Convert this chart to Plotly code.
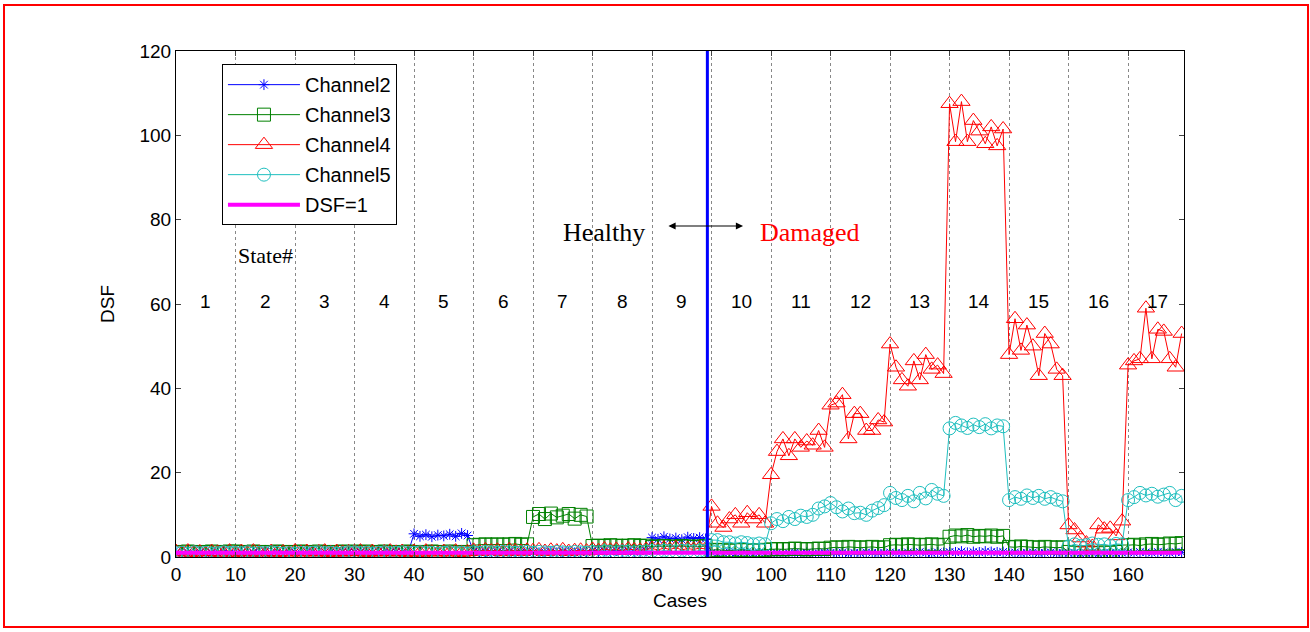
import plotly.graph_objects as go

# ---------------- data ----------------
cases = list(range(170))

ch2 = ([1.0,0.8,1.1,0.9,1.2,0.8,1.0,0.9,1.1,0.8] +
       [0.9,1.1,0.8,1.0,0.9,1.2,0.9,1.0,0.8,1.1] +
       [1.2,1.0,1.3,1.1,1.0,1.2,1.1,1.0,1.2,1.1] +
       [1.1,1.2,1.0,1.1,1.3,1.1,1.0,1.2,1.1,1.0] +
       [5.5,4.9,5.3,4.8,5.2,5.0,5.4,4.9,5.6,5.1] +
       [1.3,1.1,1.2,1.0,1.2,1.1,1.3,1.0,1.2,1.1] +
       [1.2,1.0,1.1,1.3,1.0,1.2,1.1,1.0,1.2,1.1] +
       [1.5,1.3,1.4,1.2,1.5,1.3,1.4,1.2,1.3,1.4] +
       [4.6,4.2,4.8,4.3,4.5,4.1,4.7,4.4,4.6,4.3] +
       [1.0,0.8,0.9,1.1,0.8,1.0,0.9,0.8,1.0,0.9] +
       [0.9,1.0,0.8,0.9,1.1,0.9,1.0,0.8,0.9,1.0] +
       [1.0,0.9,1.1,0.8,1.0,0.9,1.1,1.0,0.9,1.0] +
       [1.1,1.0,0.9,1.1,1.0,1.2,1.0,0.9,1.1,1.0] +
       [1.2,1.1,1.3,1.0,1.2,1.1,1.3,1.2,1.1,1.2] +
       [1.0,1.1,0.9,1.0,1.1,0.9,1.0,1.1,0.9,1.0] +
       [0.9,1.0,0.8,0.9,1.0,0.8,0.9,1.0,0.9,1.0] +
       [1.1,1.0,1.2,1.1,1.0,1.2,1.1,1.0,1.2,1.1])

ch3 = ([1.2,1.1,1.3,1.2,1.1,1.2,1.3,1.1,1.2,1.3] +
       [1.3,1.2,1.1,1.3,1.2,1.1,1.2,1.3,1.2,1.1] +
       [1.2,1.3,1.2,1.1,1.3,1.2,1.1,1.2,1.3,1.2] +
       [1.3,1.2,1.3,1.1,1.2,1.3,1.2,1.1,1.2,1.3] +
       [1.2,1.1,1.2,1.3,1.2,1.1,1.3,1.2,1.1,1.2] +
       [2.8,2.9,3.0,2.9,3.0,2.9,3.0,3.1,2.9,3.0] +
       [9.5,10.2,9.0,10.3,9.4,9.8,10.2,9.1,10.0,9.6] +
       [2.6,2.7,2.6,2.8,2.7,2.6,2.7,2.8,2.6,2.7] +
       [2.4,2.5,2.6,2.5,2.4,2.6,2.5,2.4,2.5,2.6] +
       [1.6,1.7,1.6,1.5,1.6,1.7,1.6,1.5,1.6,1.7] +
       [1.8,1.9,1.8,1.9,2.0,1.9,1.8,1.9,2.0,1.9] +
       [2.2,2.3,2.2,2.4,2.3,2.2,2.3,2.4,2.2,2.3] +
       [2.8,2.9,2.8,3.0,2.9,2.8,2.9,3.0,2.8,2.9] +
       [4.8,5.1,4.9,5.2,4.8,5.0,4.9,5.1,4.8,5.0] +
       [2.4,2.3,2.5,2.4,2.3,2.2,2.4,2.3,2.2,2.3] +
       [1.2,1.0,0.9,1.1,1.0,0.9,1.1,1.0,1.2,1.3] +
       [2.8,2.9,2.7,3.0,3.1,2.9,3.0,3.2,3.1,3.3])

ch4 = ([1.3,0.9,1.4,1.0,1.2,0.8,1.3,1.1,0.9,1.4] +
       [1.0,1.3,0.9,1.4,1.1,0.8,1.3,1.0,1.2,0.9] +
       [1.4,1.1,1.3,0.9,1.2,1.4,1.0,1.3,1.1,1.2] +
       [1.2,1.4,1.0,1.3,0.9,1.2,1.4,1.1,1.3,1.0] +
       [1.3,1.0,1.4,1.2,0.9,1.3,1.1,1.4,1.0,1.2] +
       [1.6,1.3,1.7,1.4,1.6,1.2,1.7,1.5,1.3,1.6] +
       [1.5,1.7,1.3,1.6,1.4,1.7,1.3,1.5,1.6,1.4] +
       [1.8,1.5,1.9,1.6,1.8,1.5,1.9,1.7,1.6,1.8] +
       [2.0,1.7,2.1,1.8,2.2,1.7,2.0,1.8,2.1,1.9] +
       [12.0,8.0,7.0,9.0,10.0,8.0,10.5,9.0,10.0,8.0] +
       [19.5,25.0,28.0,24.0,28.0,26.0,27.5,26.5,30.0,26.0] +
       [36.0,36.5,38.5,28.0,34.0,34.0,30.0,30.0,32.5,32.0] +
       [50.5,45.0,42.0,40.5,46.5,42.0,48.0,44.5,45.5,43.5] +
       [107.5,98.5,108.0,98.5,103.5,101.0,98.0,102.0,97.5,101.5] +
       [48.0,56.5,49.0,55.0,50.0,43.0,53.0,50.5,44.5,43.0] +
       [7.6,6.4,4.5,3.3,2.5,7.6,6.6,6.8,5.0,8.5] +
       [45.5,46.5,47.0,59.0,47.0,54.0,53.5,47.0,45.0,53.0])

ch5 = ([0.9,1.0,0.8,1.1,0.9,1.0,0.8,0.9,1.1,1.0] +
       [1.0,0.9,1.1,0.8,1.0,0.9,1.1,1.0,0.8,0.9] +
       [0.8,1.0,0.9,1.0,1.1,0.9,1.0,0.8,0.9,1.1] +
       [1.1,0.9,1.0,0.8,1.0,1.1,0.9,1.0,1.1,0.9] +
       [1.0,1.1,0.9,1.0,0.8,1.0,1.1,0.9,1.0,0.8] +
       [1.1,1.0,1.2,1.1,1.0,1.2,1.1,1.0,1.1,1.2] +
       [1.0,1.2,1.1,1.0,1.2,1.1,1.0,1.2,1.1,1.0] +
       [1.2,1.1,1.3,1.2,1.1,1.3,1.2,1.1,1.2,1.3] +
       [1.4,1.3,1.5,1.4,1.3,1.5,1.4,1.3,1.5,1.4] +
       [4.0,4.0,3.5,3.5,3.2,3.5,3.3,3.0,3.2,3.0] +
       [8.0,9.0,8.5,9.5,9.0,9.8,9.5,10.0,11.5,12.0] +
       [12.8,11.8,10.8,11.5,10.4,10.5,10.0,11.0,11.6,12.3] +
       [15.2,14.0,13.5,14.5,13.2,15.2,13.9,15.9,15.0,14.5] +
       [30.5,31.8,31.2,30.6,31.4,30.8,31.5,30.5,31.2,31.0] +
       [13.5,14.2,13.8,14.6,14.0,14.5,13.8,14.2,13.6,13.2] +
       [2.5,3.0,2.6,2.8,3.2,2.9,3.0,2.7,3.1,3.0] +
       [13.5,14.2,15.2,14.6,15.0,14.3,14.8,15.2,13.5,14.5])

dsf_threshold = 1
state_labels = [str(i) for i in range(1, 18)]
x_ticks = list(range(0, 170, 10))
y_ticks = list(range(0, 121, 20))
boundary_case = 89.3

# ---------------- figure ----------------
fig = go.Figure()
series = [
    ("Channel2", ch2, "#0000FF", "asterisk-open", 9),
    ("Channel3", ch3, "#008000", "square-open", 13),
    ("Channel4", ch4, "#FF0000", "triangle-up-open", 15),
    ("Channel5", ch5, "#1FBFBF", "circle-open", 13),
]
for i, (name, vals, col, sym, sz) in enumerate(series):
    fig.add_trace(go.Scatter(
        x=cases, y=vals, name=name, mode="lines+markers",
        line=dict(color=col, width=1),
        marker=dict(symbol=sym, size=sz, color=col, line=dict(width=1, color=col)),
        legendgroup=str(i),
    ))
fig.add_trace(go.Scatter(
    x=[cases[0], cases[-1]], y=[dsf_threshold, dsf_threshold], name="DSF=1",
    mode="lines", line=dict(color="#FF00FF", width=4), legendgroup="5",
))

# healthy/damaged boundary
fig.add_shape(type="line", xref="x", yref="paper", x0=boundary_case, x1=boundary_case,
              y0=0, y1=1, line=dict(color="#0000FF", width=3))

# red outer frame
fig.add_shape(type="rect", xref="paper", yref="paper",
              x0=(4 - 176) / 1008, x1=(1308 - 176) / 1008,
              y0=(557 - 627) / 506, y1=(557 - 5) / 506,
              line=dict(color="#FF0000", width=2), fillcolor="rgba(0,0,0,0)")

# state numbers
for i, lab in enumerate(state_labels):
    fig.add_annotation(x=10 * i + 5, y=60.5, text=lab, showarrow=False,
                       font=dict(family="Liberation Sans, Arial", size=19, color="black"))

fig.add_annotation(x=15, y=71.5, text="State#", showarrow=False,
                   font=dict(family="Liberation Serif, Times New Roman", size=22, color="black"))
fig.add_annotation(x=72, y=77, text="Healthy", showarrow=False,
                   font=dict(family="Liberation Serif, Times New Roman", size=26, color="black"))
fig.add_annotation(x=106.5, y=77, text="Damaged", showarrow=False,
                   font=dict(family="Liberation Serif, Times New Roman", size=26, color="#FF0000"))
fig.add_annotation(x=95.3, y=78.5, ax=82.5, ay=78.5, xref="x", yref="y", axref="x", ayref="y",
                   text="", showarrow=True, arrowhead=2, arrowside="end+start",
                   arrowsize=1.2, arrowwidth=1.2, arrowcolor="black")

axis_font = dict(family="Liberation Sans, Arial", size=19, color="black")
fig.update_layout(
    width=1310, height=632,
    margin=dict(l=176, r=126, t=51, b=75),
    paper_bgcolor="white", plot_bgcolor="white",
    font=axis_font,
    showlegend=True,
    legend=dict(x=0.0456, y=0.974, xanchor="left", yanchor="top",
                bgcolor="white", bordercolor="black", borderwidth=1,
                font=dict(family="Liberation Sans, Arial", size=20, color="black"),
                tracegroupgap=1, itemwidth=72),
    xaxis=dict(range=[0, 169.4], tickvals=x_ticks, ticks="inside", ticklen=5,
               showline=True, linecolor="black", linewidth=1, mirror="ticks",
               showgrid=True, gridcolor="#888888", griddash="dot", gridwidth=1,
               zeroline=False, tickfont=axis_font,
               title=dict(text="Cases", font=axis_font, standoff=9)),
    yaxis=dict(range=[0, 120], tickvals=y_ticks, ticks="inside", ticklen=5,
               showline=True, linecolor="black", linewidth=1, mirror="ticks",
               showgrid=False, zeroline=False, tickfont=axis_font,
               title=dict(text="DSF", font=axis_font, standoff=19)),
)

fig.write_html("out.html", config={"displayModeBar": False},
               post_script="document.body.style.margin='0px';document.body.style.overflow='hidden';")
